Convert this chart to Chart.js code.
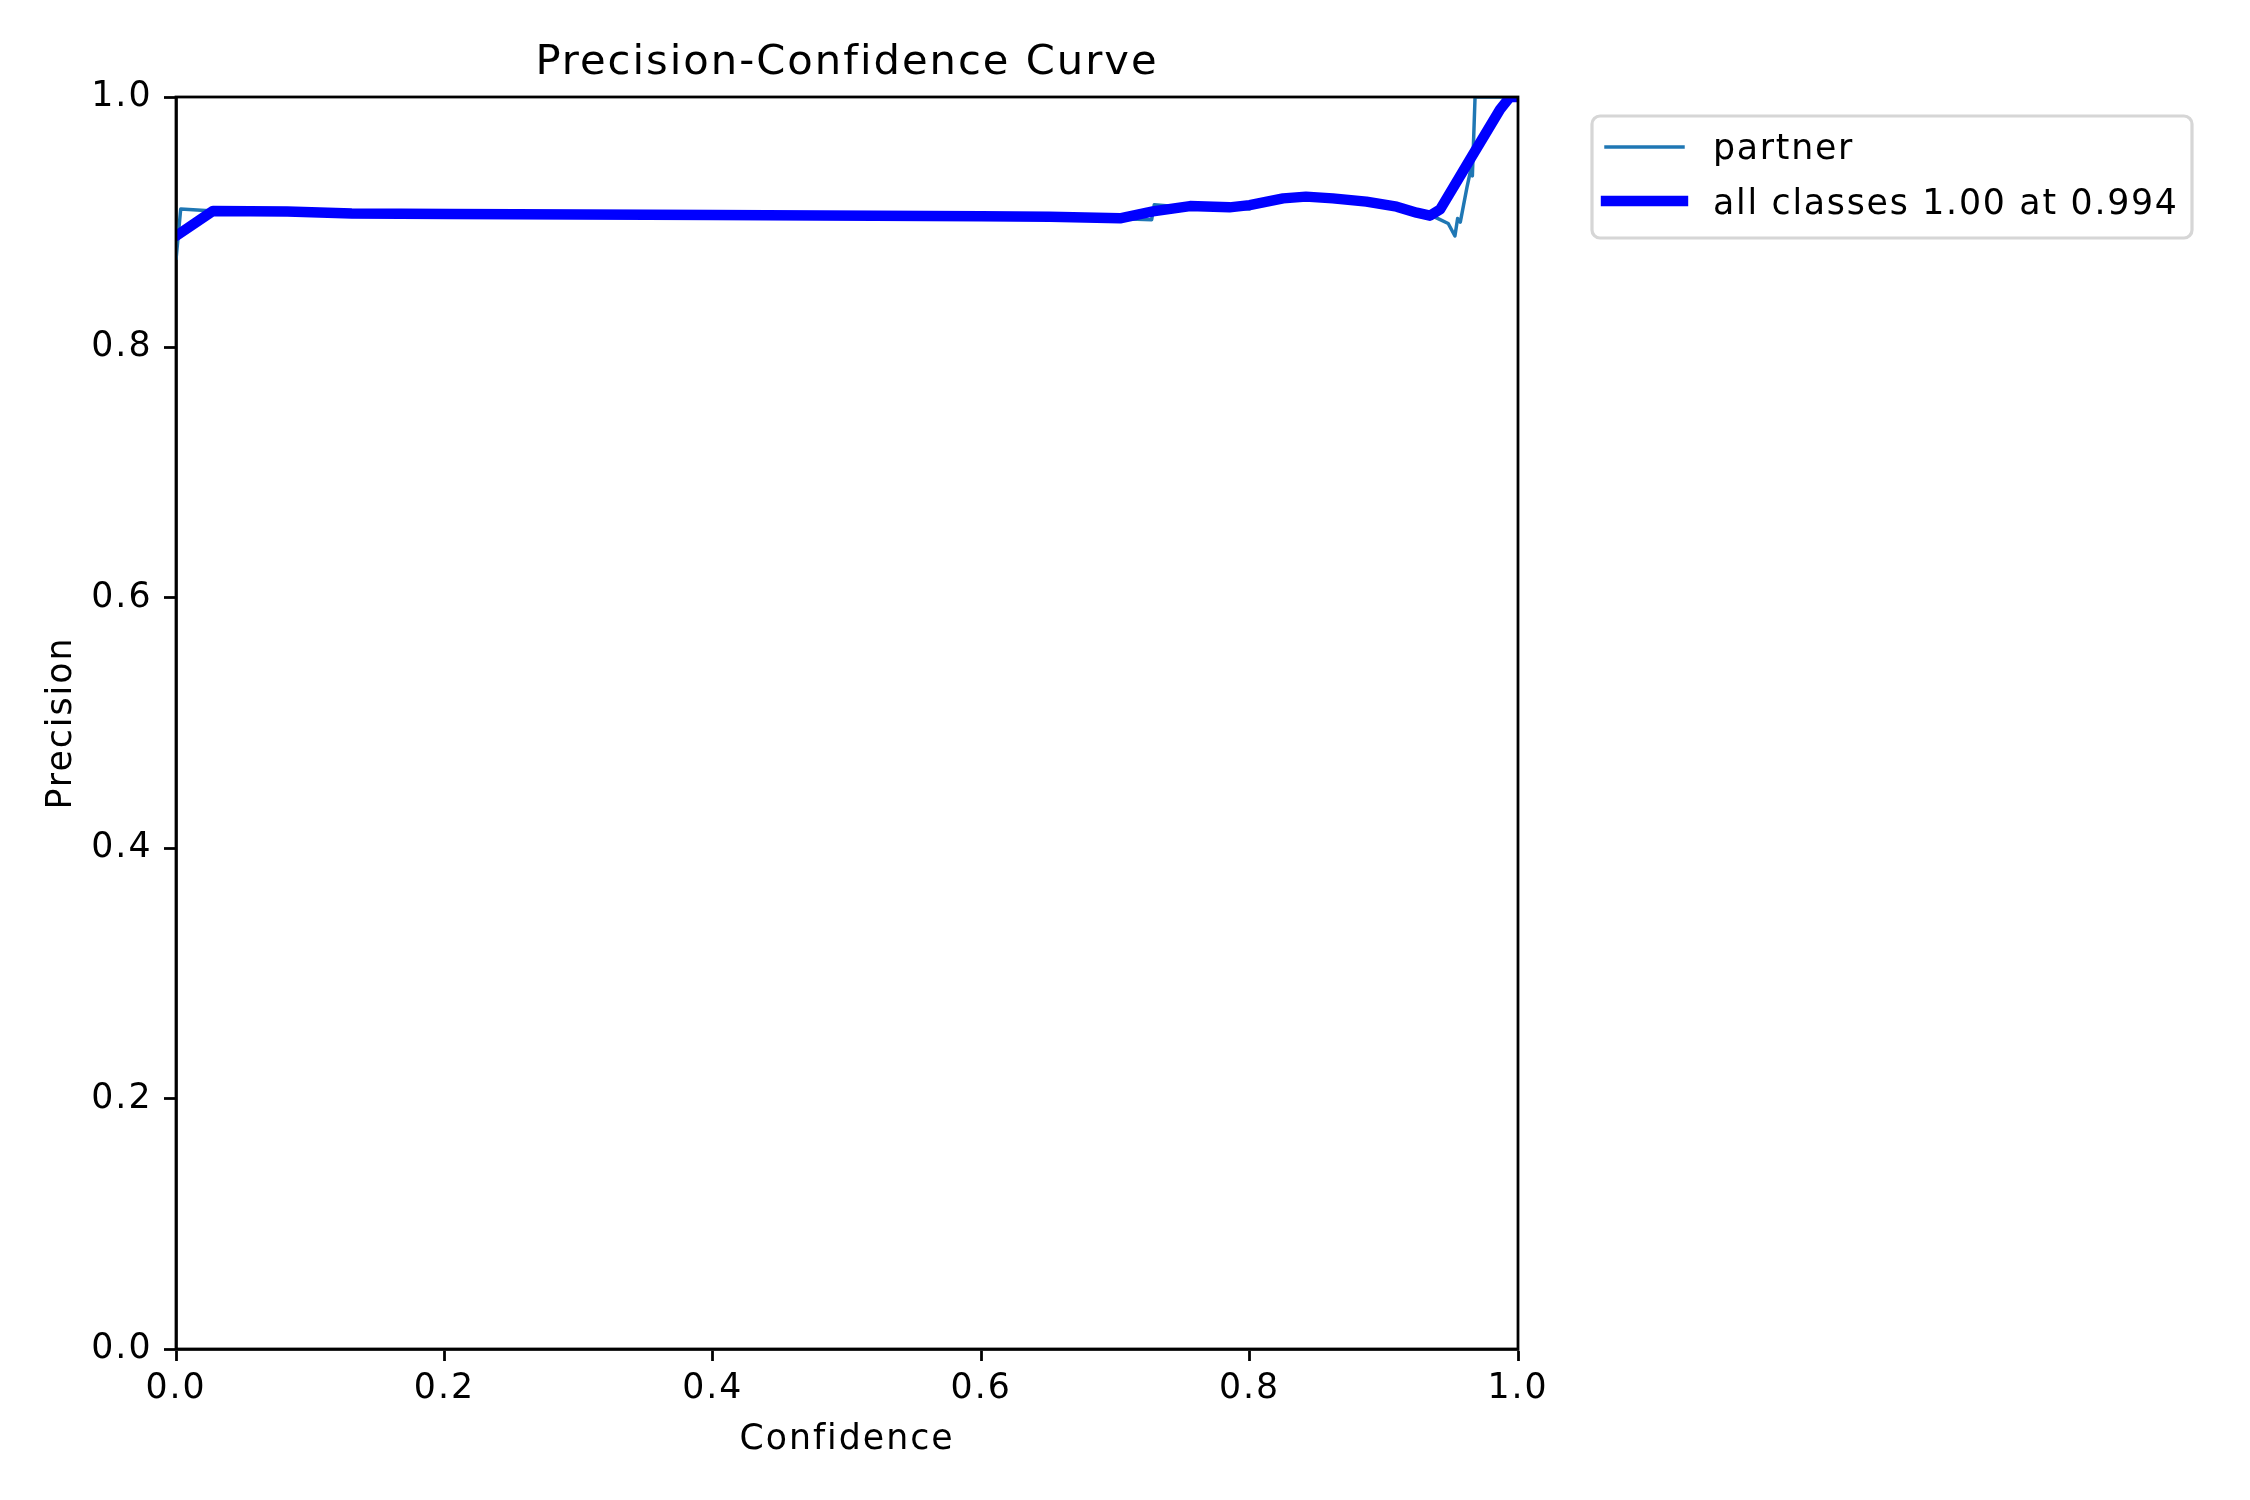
<!DOCTYPE html>
<html>
<head>
<meta charset="utf-8">
<script src="https://cdn.jsdelivr.net/npm/chart.js@4.4.1/dist/chart.umd.min.js"></script>
<style>
  html, body { margin: 0; padding: 0; background: #fff; }
  #wrap { width: 2250px; height: 1500px; }
</style>
</head>
<body>
<div id="wrap"><canvas id="c" width="2250" height="1500"></canvas></div>
<script>
// ---- data ----
const chartTitle = 'Precision-Confidence Curve';
const xLabel = 'Confidence';
const yLabel = 'Precision';
const tickValues = [0, 0.2, 0.4, 0.6, 0.8, 1.0];

const partnerLabel = 'partner';
const partnerConf = [0, 0.0035, 0.028, 0.08, 0.13, 0.2, 0.3, 0.4, 0.5, 0.6, 0.65, 0.70, 0.727, 0.729, 0.74, 0.756, 0.785, 0.80, 0.803, 0.825, 0.842, 0.862, 0.887, 0.91, 0.925, 0.936, 0.942, 0.948, 0.953, 0.955, 0.957, 0.9595, 0.962, 0.9648, 0.966, 0.968, 1.0];
const partnerPrec = [0.870, 0.9105, 0.909, 0.9085, 0.907, 0.9065, 0.906, 0.9055, 0.905, 0.9045, 0.9043, 0.903, 0.902, 0.914, 0.913, 0.913, 0.912, 0.9105, 0.915, 0.921, 0.921, 0.919, 0.9164, 0.9124, 0.9076, 0.905, 0.902, 0.899, 0.889, 0.903, 0.900, 0.914, 0.928, 0.942, 0.937, 1.0, 1.0];

const allLabel = 'all classes 1.00 at 0.994';
const allConf = [0, 0.0276, 0.083, 0.131, 0.204, 0.4, 0.6, 0.651, 0.7034, 0.728, 0.7556, 0.785, 0.800, 0.825, 0.842, 0.862, 0.887, 0.9096, 0.9245, 0.9344, 0.942, 0.964, 0.9866, 0.994, 1.0];
const allPrec = [0.889, 0.909, 0.9085, 0.907, 0.9065, 0.9058, 0.9048, 0.9044, 0.9031, 0.9087, 0.9129, 0.9119, 0.9137, 0.919, 0.9204, 0.919, 0.9164, 0.9124, 0.9076, 0.9052, 0.9103, 0.9497, 0.990, 1.0, 1.0];

// ---- layout / style ----
const FONT = 'DejaVu Sans';
const FS = 34.72;      // 10pt @ 250dpi
const TFS = 41.67;     // 12pt @ 250dpi
const SPACING = '2px'; // matplotlib renders glyphs slightly wider apart
const LEGEND_SPACING = '1.75px';
const AREA = {left: 176, right: 1518, top: 97, bottom: 1349};
const W = 2250, H = 1500;

const toPts = (xs, ys) => xs.map((x, i) => ({x: x, y: ys[i]}));

const framePlugin = {
  id: 'frame',
  beforeDraw(chart) {
    chart.ctx.letterSpacing = SPACING;
  },
  afterDatasetsDraw(chart) {
    const {ctx, chartArea: a} = chart;
    ctx.save();
    ctx.strokeStyle = '#000';
    ctx.lineWidth = 2.78;
    ctx.lineJoin = 'miter';
    ctx.strokeRect(a.left, a.top, a.right - a.left, a.bottom - a.top);
    ctx.restore();
  },
  afterDraw(chart) {
    // legend box (matplotlib style, outside upper-right)
    const {ctx} = chart;
    const bx = 1592, by = 116, bw = 600, bh = 122, r = 8;
    ctx.save();
    ctx.letterSpacing = LEGEND_SPACING;
    ctx.fillStyle = 'rgba(255,255,255,0.8)';
    ctx.strokeStyle = '#d6d6d6';
    ctx.lineWidth = 3.2;
    ctx.beginPath();
    ctx.roundRect(bx, by, bw, bh, r);
    ctx.fill();
    ctx.stroke();
    const rows = [
      {ds: chart.data.datasets[0], y: 147, base: 159},
      {ds: chart.data.datasets[1], y: 201, base: 214}
    ];
    rows.forEach(row => {
      ctx.strokeStyle = row.ds.borderColor;
      ctx.lineWidth = row.ds.borderWidth;
      ctx.lineCap = 'square';
      ctx.beginPath();
      ctx.moveTo(1606, row.y);
      ctx.lineTo(1683, row.y);
      ctx.stroke();
      ctx.fillStyle = '#000';
      ctx.font = FS + 'px "' + FONT + '"';
      ctx.textBaseline = 'alphabetic';
      ctx.textAlign = 'left';
      ctx.fillText(row.ds.label, 1713, row.base);
    });
    ctx.restore();
  }
};

const axisCommon = {
  type: 'linear',
  min: 0,
  max: 1,
  grid: {
    display: true,
    drawOnChartArea: false,
    drawTicks: true,
    tickLength: 12,
    tickWidth: 2.78,
    tickColor: '#000'
  },
  border: {display: true, color: '#000', width: 2.78}
};

new Chart(document.getElementById('c'), {
  type: 'line',
  data: {
    datasets: [
      {
        label: partnerLabel,
        data: toPts(partnerConf, partnerPrec),
        borderColor: '#1f77b4',
        borderWidth: 3.47,
        pointRadius: 0,
        tension: 0,
        fill: false,
        clip: 0,
        order: 1,
        borderJoinStyle: 'round'
      },
      {
        label: allLabel,
        data: toPts(allConf, allPrec),
        borderColor: '#0000ff',
        borderWidth: 10.4,
        pointRadius: 0,
        tension: 0,
        fill: false,
        clip: 0,
        order: 0,
        borderJoinStyle: 'round',
        borderCapStyle: 'round'
      }
    ]
  },
  options: {
    responsive: false,
    devicePixelRatio: 1,
    animation: false,
    events: [],
    layout: {padding: {left: 0, top: 0, right: W - AREA.right, bottom: 0}},
    plugins: {
      legend: {display: false},
      tooltip: {enabled: false},
      title: {
        display: true,
        text: chartTitle,
        fullSize: false,
        color: '#000',
        font: {family: FONT, size: TFS, weight: 'normal', lineHeight: 1.2},
        padding: {top: 38.6, bottom: AREA.top - 38.6 - TFS * 1.2}
      }
    },
    scales: {
      x: Object.assign({}, axisCommon, {
        position: 'bottom',
        afterBuildTicks(s) { s.ticks = tickValues.map(v => ({value: v})); },
        afterFit(s) { s.height = H - AREA.bottom; },
        ticks: {
          color: '#000',
          font: {family: FONT, size: FS, lineHeight: 1.2},
          padding: 7,
          maxRotation: 0,
          autoSkip: false,
          callback: v => Number(v).toFixed(1)
        },
        title: {
          display: true,
          text: xLabel,
          color: '#000',
          font: {family: FONT, size: FS, lineHeight: 1.2},
          padding: {top: 0, bottom: 39.5}
        }
      }),
      y: Object.assign({}, axisCommon, {
        position: 'left',
        afterBuildTicks(s) { s.ticks = tickValues.map(v => ({value: v})); },
        afterFit(s) { s.width = AREA.left; },
        ticks: {
          color: '#000',
          font: {family: FONT, size: FS, lineHeight: 1.2},
          padding: 11.5,
          autoSkip: false,
          callback: v => Number(v).toFixed(1)
        },
        title: {
          display: true,
          text: yLabel,
          color: '#000',
          font: {family: FONT, size: FS, lineHeight: 1.2},
          padding: {top: 41, bottom: 0}
        }
      })
    }
  },
  plugins: [framePlugin]
});
</script>
</body>
</html>
